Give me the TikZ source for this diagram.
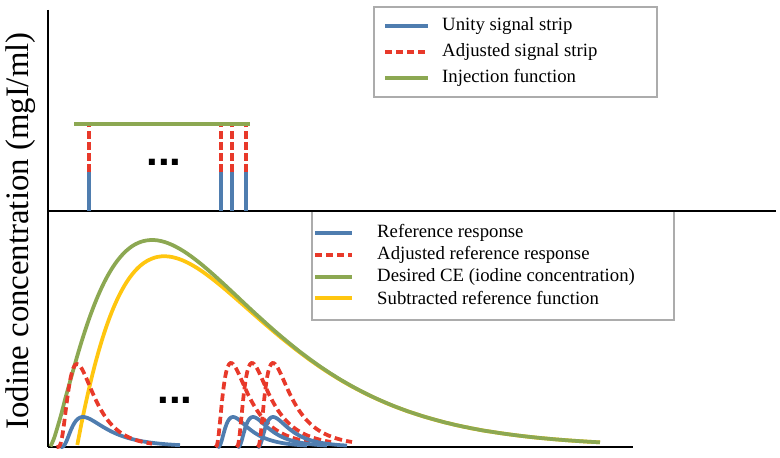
\documentclass[tikz,border=0pt]{standalone}
\usepackage{fontspec}
\setmainfont{Liberation Serif}
\newfontfamily\dotsfont{Liberation Sans}

\definecolor{stripblue}{HTML}{4F7DAF}
\definecolor{stripred}{HTML}{E8392A}
\definecolor{injgreen}{HTML}{8CA852}
\definecolor{subyellow}{HTML}{FFC60F}

\tikzset{
  thick line/.style={line width=3.2pt},
  bluecurve/.style={thick line, stripblue},
  redcurve/.style={thick line, stripred, dash pattern=on 6.5pt off 3.5pt},
  greencurve/.style={thick line, injgreen},
  yellowcurve/.style={thick line, subyellow},
  legline/.style={line width=2.8pt},
  axisline/.style={line width=1.9pt, black},
  legbox/.style={draw=gray!65, line width=1.3pt},
  legtext/.style={anchor=west, inner sep=0pt, font=\fontsize{16}{18}\selectfont},
  dots/.style={font=\fontsize{36}{36}\selectfont\dotsfont\bfseries, inner sep=0pt}
}

\begin{document}
\begin{tikzpicture}[x=0.03cm, y=-0.03cm,
  declare function={
    G(\t)=207*(\t/102)^1.4*exp(1.4*(1-\t/102));
    D(\t)=158*exp(-0.021*\t);
    pk(\t,\p,\s)=exp(-ln(\t/\p)*ln(\t/\p)/(2*\s*\s));
  }]
	\useasboundingbox (0,0) rectangle (780,458);

	% axis
	\draw[axisline] (48,10) -- (48,447);
	\draw[axisline] (48,211) -- (776,211);
	\draw[axisline] (48,447) -- (633,447);
	\node[rotate=90, font=\fontsize{28}{30}\selectfont] (ylab) at (21,231) {Iodine concentration (mgI/ml)};

	% signal strips
	\foreach \x in {89,221,232,246} {
		\draw[line width=2.7pt, stripblue] (\x,211) -- (\x,172);
		\draw[line width=2.7pt, stripred, dash pattern=on 6.5pt off 3pt] (\x,172) -- (\x,124);
	}
	\draw[greencurve] (74,124) -- (250,124);
	\node[dots] (updots) at (164,162) {...};

	% desired CE and subtracted function
	\draw[yellowcurve] plot[domain=27.3:550, samples=150, smooth] ({50+\x}, {447-G(\x)+D(\x)});
	\draw[greencurve] plot[domain=0.5:550, samples=150, smooth] ({50+\x}, {447-G(\x)});

	% reference responses
	\draw[bluecurve] plot[domain=0.5:120, samples=80, smooth] ({60+\x}, {447-30*pk(\x,23,0.7)});
	\draw[redcurve] plot[domain=0.5:96, samples=80, smooth] ({56+\x}, {447-83*pk(\x,21,0.6)});
	\foreach \k in {0,1,2} {
		\draw[bluecurve] plot[domain=0.5:90, samples=70, smooth] ({217+20*\k+\x}, {447-30*pk(\x,16,0.7)});
		\draw[redcurve] plot[domain=0.5:95, samples=70, smooth] ({215+21*\k+\x}, {447-84*pk(\x,16,0.75)});
	}
	\node[dots] (lowdots) at (175,400) {...};

	% legend top
	\draw[legbox, fill=white] (374,7) rectangle (657,97);
	\node[legtext] (lu) at (442,26) {Unity signal strip};
	\node[legtext] (la) at (442,52) {Adjusted signal strip};
	\node[legtext] (li) at (442,78) {Injection function};
	\draw[legline, stripblue] (385,26) -- (428,26);
	\draw[legline, stripred, dash pattern=on 6pt off 3.5pt] (385,52) -- (428,52);
	\draw[legline, injgreen] (385,78) -- (428,78);

	% legend bottom
	\draw[legbox, fill=white] (312,211) rectangle (674,320);
	\draw[axisline] (300,211) -- (700,211);
	\node[legtext] (lr) at (377,233) {Reference response};
	\node[legtext] (lar) at (377,255) {Adjusted reference response};
	\node[legtext] (ld) at (377,277) {Desired CE (iodine concentration)};
	\node[legtext] (ls) at (377,298) {Subtracted reference function};
	\draw[legline, stripblue] (315,233) -- (352,233);
	\draw[legline, stripred, dash pattern=on 6pt off 3.5pt] (315,255) -- (352,255);
	\draw[legline, injgreen] (315,277) -- (352,277);
	\draw[legline, subyellow] (315,298) -- (352,298);

\end{tikzpicture}
\end{document}
